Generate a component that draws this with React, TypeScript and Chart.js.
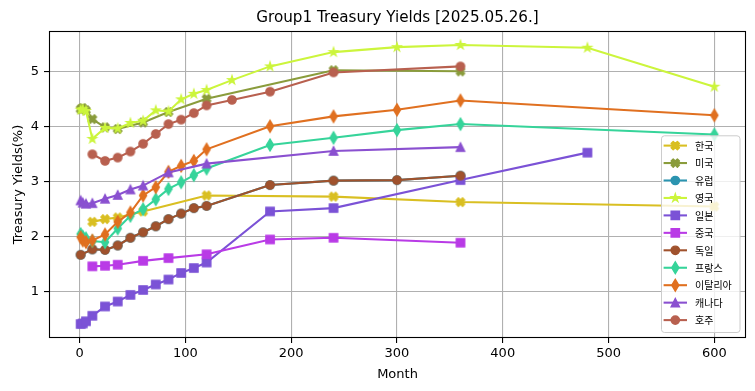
import React, { useEffect, useRef } from "react";
import { Chart, registerables } from "chart.js";

Chart.register(...registerables);

// ---- data (months to maturity, yields in %) ----
const koreaMonths = [12, 24, 36, 60, 120, 240, 360, 600];
const koreaYields = [2.27, 2.32, 2.35, 2.46, 2.75, 2.73, 2.63, 2.55];

const usMonths = [1, 2, 3, 6, 12, 24, 36, 60, 84, 120, 240, 360];
const usYields = [4.32, 4.33, 4.34, 4.3, 4.14, 3.99, 3.96, 4.08, 4.27, 4.51, 5.03, 5.01];

const germanyMonths = [1, 12, 24, 36, 48, 60, 72, 84, 96, 108, 120, 180, 240, 300, 360];
const germanyYields = [1.67, 1.77, 1.76, 1.84, 1.98, 2.08, 2.19, 2.32, 2.42, 2.52, 2.56, 2.94, 3.02, 3.03, 3.11];

const europeMonths = germanyMonths;
const europeYields = germanyYields;

const ukMonths = [1, 3, 6, 12, 24, 36, 48, 60, 72, 84, 96, 108, 120, 144, 180, 240, 300, 360, 480, 600];
const ukYields = [4.31, 4.32, 4.29, 3.78, 3.98, 3.97, 4.07, 4.11, 4.3, 4.28, 4.5, 4.6, 4.67, 4.85, 5.1, 5.36, 5.45, 5.49, 5.44, 4.73];

const japanMonths = [1, 3, 6, 12, 24, 36, 48, 60, 72, 84, 96, 108, 120, 180, 240, 360, 480];
const japanYields = [0.41, 0.42, 0.46, 0.56, 0.73, 0.82, 0.94, 1.03, 1.13, 1.22, 1.34, 1.43, 1.53, 2.46, 2.52, 3.03, 3.53];

const chinaMonths = [12, 24, 36, 60, 84, 120, 180, 240, 360];
const chinaYields = [1.46, 1.47, 1.49, 1.56, 1.61, 1.68, 1.95, 1.98, 1.89];

const franceMonths = [1, 3, 6, 12, 24, 36, 48, 60, 72, 84, 96, 108, 120, 180, 240, 300, 360, 600];
const franceYields = [2.05, 2.0, 1.97, 1.92, 1.9, 2.15, 2.38, 2.5, 2.68, 2.87, 2.99, 3.12, 3.24, 3.67, 3.8, 3.94, 4.05, 3.86];

const italyMonths = [1, 3, 6, 12, 24, 36, 48, 60, 72, 84, 96, 108, 120, 180, 240, 300, 360, 600];
const italyYields = [1.99, 1.93, 1.9, 1.93, 2.04, 2.27, 2.44, 2.75, 2.9, 3.18, 3.29, 3.38, 3.59, 4.01, 4.19, 4.31, 4.48, 4.21];

const canadaMonths = [1, 3, 6, 12, 24, 36, 48, 60, 84, 120, 240, 360];
const canadaYields = [2.66, 2.62, 2.6, 2.61, 2.69, 2.76, 2.86, 2.93, 3.17, 3.33, 3.56, 3.63];

const australiaMonths = [12, 24, 36, 48, 60, 72, 84, 96, 108, 120, 144, 180, 240, 360];
const australiaYields = [3.5, 3.38, 3.44, 3.55, 3.69, 3.87, 4.05, 4.13, 4.25, 4.39, 4.49, 4.64, 4.99, 5.1];

const seriesNames = ["한국", "미국", "유럽", "영국", "일본", "중국", "독일", "프랑스", "이탈리아", "캐나다", "호주"];
const seriesMonths = [koreaMonths, usMonths, europeMonths, ukMonths, japanMonths, chinaMonths, germanyMonths, franceMonths, italyMonths, canadaMonths, australiaMonths];
const seriesYields = [koreaYields, usYields, europeYields, ukYields, japanYields, chinaYields, germanyYields, franceYields, italyYields, canadaYields, australiaYields];

const xTicks = [0, 100, 200, 300, 400, 500, 600];
const yTicks = [1, 2, 3, 4, 5];

const chartTitle = "Group1 Treasury Yields [2025.05.26.]";
const xLabel = "Month";
const yLabel = "Treasury Yields(%)";

// ---- styles ----
const seriesColors = ["#d9bf22", "#8a9c3c", "#2b94b0", "#ccf53c", "#7b52d6", "#b93be6", "#a0522d", "#36d49a", "#e07020", "#8a50d0", "#b8604f"];
const seriesShapes = ["X", "X", "o", "*", "s", "s", "o", "d", "d", "^", "o"];

const MS = 8.33; // marker size px
const MEW = 1.39; // marker edge width

function drawShape(ctx: CanvasRenderingContext2D, shape: string, cx: number, cy: number, color: string) {
  const ms = MS;
  const h = ms / 2;
  ctx.save();
  ctx.beginPath();
  ctx.lineJoin = "miter";
  if (shape === "o") {
    ctx.arc(cx, cy, h, 0, Math.PI * 2);
    ctx.lineJoin = "round";
  } else if (shape === "s") {
    ctx.rect(cx - h, cy - h, ms, ms);
  } else if (shape === "^") {
    ctx.moveTo(cx, cy - h);
    ctx.lineTo(cx - h, cy + h);
    ctx.lineTo(cx + h, cy + h);
    ctx.closePath();
  } else if (shape === "d") {
    const hh = (ms * Math.SQRT2) / 2;
    const hw = 0.6 * hh;
    ctx.moveTo(cx, cy - hh);
    ctx.lineTo(cx + hw, cy);
    ctx.lineTo(cx, cy + hh);
    ctx.lineTo(cx - hw, cy);
    ctx.closePath();
  } else if (shape === "*") {
    const ro = h * 1.0;
    const ri = ro * 0.381966;
    for (let i = 0; i < 10; i++) {
      const r = i % 2 === 0 ? ro : ri;
      const a = -Math.PI / 2 + (i * Math.PI) / 5;
      const px = cx + r * Math.cos(a);
      const py = cy + r * Math.sin(a);
      if (i === 0) ctx.moveTo(px, py);
      else ctx.lineTo(px, py);
    }
    ctx.closePath();
  } else if (shape === "X") {
    const pts = [
      [0.25, 0], [0.5, 0.25], [0.75, 0], [1, 0.25], [0.75, 0.5], [1, 0.75],
      [0.75, 1], [0.5, 0.75], [0.25, 1], [0, 0.75], [0.25, 0.5], [0, 0.25],
    ];
    pts.forEach((p, i) => {
      const px = cx + (p[0] - 0.5) * ms;
      const py = cy + (p[1] - 0.5) * ms;
      if (i === 0) ctx.moveTo(px, py);
      else ctx.lineTo(px, py);
    });
    ctx.closePath();
    ctx.lineJoin = "round";
  }
  ctx.fillStyle = color;
  ctx.strokeStyle = color;
  ctx.lineWidth = MEW;
  ctx.fill();
  ctx.stroke();
  ctx.restore();
}

function makeMarker(shape: string, color: string): HTMLCanvasElement {
  const c = document.createElement("canvas");
  c.width = 20;
  c.height = 20;
  const ctx = c.getContext("2d")!;
  drawShape(ctx, shape, 10, 10, color);
  return c;
}

function paddedRange(arrs: number[][]) {
  let mn = Infinity;
  let mx = -Infinity;
  arrs.forEach((a) => a.forEach((v) => { mn = Math.min(mn, v); mx = Math.max(mx, v); }));
  const m = (mx - mn) * 0.05;
  return [mn - m, mx + m];
}

const overlayPlugin = {
  id: "overlay",
  afterDraw(chart: any) {
    const ctx: CanvasRenderingContext2D = chart.ctx;
    const { left, right, top, bottom } = chart.chartArea;
    ctx.save();
    // frame
    ctx.strokeStyle = "#000";
    ctx.lineWidth = 1.1;
    ctx.strokeRect(left + 0.5, top + 0.5, right - left - 1, bottom - top - 1);

    // legend
    const lw = 78.5;
    const lh = 196.7;
    const lx = right - 6.5 - lw;
    const ly = bottom - 6 - lh;
    ctx.beginPath();
    (ctx as any).roundRect(lx + 0.5, ly + 0.5, lw, lh, 3);
    ctx.fillStyle = "rgba(255,255,255,0.8)";
    ctx.fill();
    ctx.strokeStyle = "#cccccc";
    ctx.lineWidth = 1;
    ctx.stroke();
    const rowH = 17.45;
    seriesNames.forEach((name, i) => {
      const cy = ly + 10.3 + i * rowH;
      ctx.beginPath();
      ctx.moveTo(lx + 2.6, cy);
      ctx.lineTo(lx + 26, cy);
      ctx.strokeStyle = seriesColors[i];
      ctx.lineWidth = 2.08;
      ctx.stroke();
      drawShape(ctx, seriesShapes[i], lx + 14.3, cy, seriesColors[i]);
      ctx.fillStyle = "#000";
      ctx.font = "10px 'Noto Sans CJK KR'";
      ctx.textBaseline = "middle";
      ctx.textAlign = "left";
      ctx.fillText(name, lx + 34, cy + 0.5);
    });

    // title & axis labels
    const cxm = (left + right) / 2;
    ctx.fillStyle = "#000";
    ctx.textAlign = "center";
    ctx.textBaseline = "alphabetic";
    ctx.font = "15.2px 'DejaVu Sans'";
    ctx.fillText(chartTitle, cxm, 21.5);
    ctx.font = "13px 'DejaVu Sans'";
    ctx.fillText(xLabel, cxm, 377.5);
    ctx.save();
    ctx.translate(21.5, (top + bottom) / 2);
    ctx.rotate(-Math.PI / 2);
    ctx.fillText(yLabel, 0, 0);
    ctx.restore();
    ctx.restore();
  },
};

export default function App() {
  const ref = useRef<HTMLCanvasElement>(null);
  useEffect(() => {
    const canvas = ref.current!;
    const [xmin, xmax] = paddedRange(seriesMonths);
    const [ymin, ymax] = paddedRange(seriesYields);
    const n = seriesNames.length;
    const datasets = seriesNames.map((name, i) => {
      const marker = makeMarker(seriesShapes[i], seriesColors[i]);
      return {
        label: name,
        data: seriesMonths[i].map((m, j) => ({ x: m, y: seriesYields[i][j] })),
        borderColor: seriesColors[i],
        backgroundColor: seriesColors[i],
        borderWidth: 2.08,
        pointStyle: marker as any,
        pointRadius: 4,
        pointHoverRadius: 4,
        tension: 0,
        fill: false,
        order: n - i,
      };
    });
    const tickFont = { family: "'DejaVu Sans'", size: 13 };
    const chart = new Chart(canvas, {
      type: "line",
      data: { datasets: datasets as any },
      options: {
        animation: false,
        responsive: false,
        devicePixelRatio: 1,
        events: [],
        layout: { padding: { top: 31, right: 9, left: 0, bottom: 0 } },
        plugins: {
          legend: { display: false },
          title: { display: false },
          tooltip: { enabled: false },
        },
        scales: {
          x: {
            type: "linear",
            min: xmin,
            max: xmax,
            afterBuildTicks: (s: any) => { s.ticks = xTicks.map((v) => ({ value: v })); },
            afterFit: (s: any) => { s.height = 53; },
            grid: { color: "#b0b0b0", lineWidth: 1.1, tickColor: "#000", tickLength: 5, tickWidth: 1.1 },
            border: { display: false },
            ticks: { font: tickFont, color: "#000", padding: 3, maxRotation: 0, autoSkip: false, callback: (v: any) => String(v) },
          },
          y: {
            type: "linear",
            min: ymin,
            max: ymax,
            afterBuildTicks: (s: any) => { s.ticks = yTicks.map((v) => ({ value: v })); },
            afterFit: (s: any) => { s.width = 49; },
            grid: { color: "#b0b0b0", lineWidth: 1.1, tickColor: "#000", tickLength: 5, tickWidth: 1.1 },
            border: { display: false },
            ticks: { font: tickFont, color: "#000", padding: 5, autoSkip: false, callback: (v: any) => String(v) },
          },
        },
      },
      plugins: [overlayPlugin],
    });
    return () => chart.destroy();
  }, []);
  return (
    <div style={{ position: "fixed", left: 0, top: 0, width: 755, height: 391, background: "#fff" }}>
      <canvas ref={ref} width={755} height={391} style={{ display: "block", width: 755, height: 391 }} />
    </div>
  );
}
